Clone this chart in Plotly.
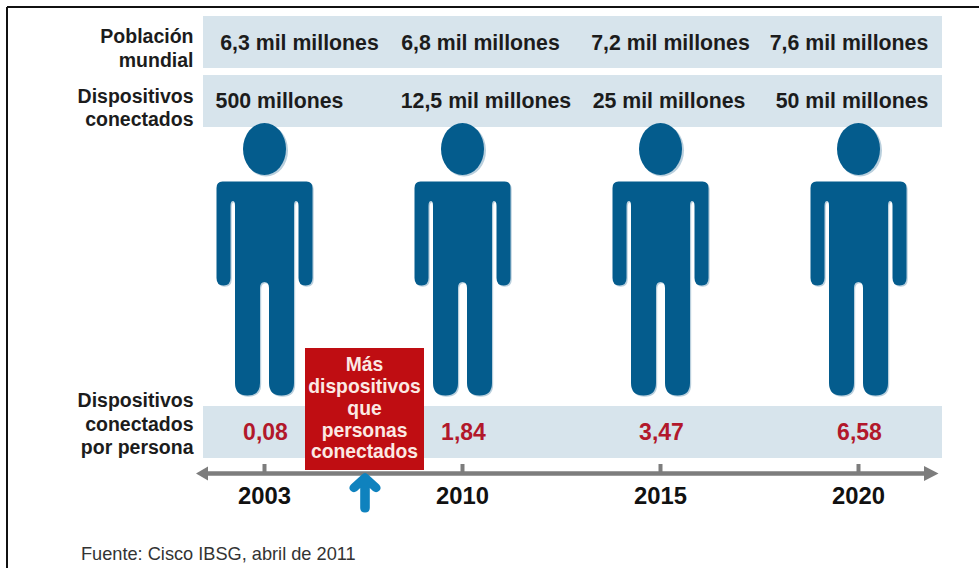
import plotly.graph_objects as go

# Table contents
years = ["2003", "2010", "2015", "2020"]
poblacion = ["6,3 mil millones", "6,8 mil millones", "7,2 mil millones", "7,6 mil millones"]
dispositivos = ["500 millones", "12,5 mil millones", "25 mil millones", "50 mil millones"]
por_persona = ["0,08", "1,84", "3,47", "6,58"]
etiqueta_poblacion = ["Población", "mundial"]
etiqueta_dispositivos = ["Dispositivos", "conectados"]
etiqueta_por_persona = ["Dispositivos", "conectados", "por persona"]
aviso = ["Más", "dispositivos", "que", "personas", "conectados"]
fuente = "Fuente: Cisco IBSG, abril de 2011"

# Page layout, in pixels of the 979x568 canvas
W, H = 979, 568
BAND_L, BAND_R = 203, 942
COL_X = [264.5, 462.5, 660.5, 858.5]
POB_X = [299.5, 480.5, 670.5, 849]
DISP_X = [279.5, 486, 669, 852]
RATIO_X = [265.5, 463.5, 661.5, 859.5]
AXIS_Y = 473.5
FONT = "Liberation Sans, Arial, sans-serif"

INK = "#1c1c1c"
BAND = "#d7e4ec"
FIGURE = "#045c8d"
SHADOW = "#b9cfdd"
RED_TEXT = "#b2182b"
RED_BOX = "#bf0d12"
GREY = "#7d7d7d"
BLUE = "#0f82be"


def person_path(cx, off=0):
    """Outline of the standing figure (torso, arms and legs) centred on cx."""
    x = lambda d: f"{cx + d + off:.1f}"
    y = lambda v: f"{v + off:.1f}"
    p = [
        f"M{x(-42)},{y(181.5)}", f"L{x(42)},{y(181.5)}", f"Q{x(48)},{y(181.5)} {x(48)},{y(188)}",
        f"L{x(48)},{y(278)}", f"Q{x(48)},{y(285.5)} {x(41)},{y(285.5)}", f"Q{x(34)},{y(285.5)} {x(34)},{y(278)}",
        f"L{x(34)},{y(206)}", f"Q{x(34)},{y(201)} {x(31.5)},{y(201)}", f"Q{x(29.5)},{y(201)} {x(29.5)},{y(206)}",
        f"L{x(29.5)},{y(383)}", f"Q{x(29.5)},{y(395.5)} {x(17)},{y(395.5)}", f"Q{x(4.5)},{y(395.5)} {x(4.5)},{y(383)}",
        f"L{x(4.5)},{y(288)}", f"Q{x(4.5)},{y(282)} {x(0)},{y(282)}", f"Q{x(-4.5)},{y(282)} {x(-4.5)},{y(288)}",
        f"L{x(-4.5)},{y(383)}", f"Q{x(-4.5)},{y(395.5)} {x(-17)},{y(395.5)}", f"Q{x(-29.5)},{y(395.5)} {x(-29.5)},{y(383)}",
        f"L{x(-29.5)},{y(206)}", f"Q{x(-29.5)},{y(201)} {x(-31.5)},{y(201)}", f"Q{x(-34)},{y(201)} {x(-34)},{y(206)}",
        f"L{x(-34)},{y(278)}", f"Q{x(-34)},{y(285.5)} {x(-41)},{y(285.5)}", f"Q{x(-48)},{y(285.5)} {x(-48)},{y(278)}",
        f"L{x(-48)},{y(188)}", f"Q{x(-48)},{y(181.5)} {x(-42)},{y(181.5)}", "Z",
    ]
    return " ".join(p)


def rect(x0, y0, x1, y1, color):
    return dict(type="rect", x0=x0, y0=y0, x1=x1, y1=y1, fillcolor=color, line_width=0, layer="below")


shapes = [
    rect(BAND_L, 16, BAND_R, 68, BAND),
    rect(BAND_L, 75, BAND_R, 127, BAND),
    rect(BAND_L, 406, BAND_R, 458, BAND),
]

for cx in COL_X:
    # soft drop shadow first, then the figure itself
    shapes.append(dict(type="path", path=person_path(cx, 1.2), fillcolor=SHADOW, line_width=0, layer="below"))
    shapes.append(dict(type="circle", x0=cx - 20.5, x1=cx + 23.5, y0=124.5, y1=176.5,
                       fillcolor=SHADOW, line_width=0, layer="below"))
    shapes.append(dict(type="path", path=person_path(cx), fillcolor=FIGURE, line_width=0, layer="below"))
    shapes.append(dict(type="circle", x0=cx - 21.5, x1=cx + 21.5, y0=123, y1=175,
                       fillcolor=FIGURE, line_width=0, layer="below"))
    # tick on the time axis
    shapes.append(rect(cx - 2, 464, cx + 2, AXIS_Y, GREY))

# time axis with an arrow head at each end
shapes += [
    rect(204, AXIS_Y - 2.3, 926, AXIS_Y + 2.3, GREY),
    dict(type="path", path=f"M196,{AXIS_Y} L208,{AXIS_Y - 7} L208,{AXIS_Y + 7} Z",
         fillcolor=GREY, line_width=0, layer="below"),
    dict(type="path", path=f"M938.5,{AXIS_Y} L924,{AXIS_Y - 7.5} L924,{AXIS_Y + 7.5} Z",
         fillcolor=GREY, line_width=0, layer="below"),
    rect(305, 348, 424, 470, RED_BOX),
    # blue upward arrow under the callout
    dict(type="path", layer="below", fillcolor=BLUE, line_width=0,
         path="M365,473 Q366.5,473 368,474.5 L379,484.5 Q382,488 379.5,490.5 Q376.5,493.5 373,491 L369.8,488 "
              "L369.8,507.5 Q369.8,512.5 365,512.5 Q360.2,512.5 360.2,507.5 L360.2,488 L357,491 "
              "Q353.5,493.5 350.5,490.5 Q348,488 351,484.5 L362,474.5 Q363.5,473 365,473 Z"),
    # frame: top and left edges only
    dict(type="line", x0=7, x1=W, y0=7, y1=7, line=dict(color="#111111", width=2)),
    dict(type="line", x0=7, x1=7, y0=7, y1=H, line=dict(color="#111111", width=2)),
]

fig = go.Figure()


def add_text(xs, ys, texts, size, color, pos="middle center", bold=True):
    weight = "bold" if bold else "normal"
    fig.add_trace(go.Scatter(
        x=xs, y=ys, text=texts, mode="text", textposition=pos, hoverinfo="skip",
        cliponaxis=False, showlegend=False,
        textfont=dict(family=FONT, size=size, color=color, weight=weight),
    ))


add_text(POB_X, [44.5] * 4, poblacion, 21.3, INK)
add_text(DISP_X, [102.5] * 4, dispositivos, 21.3, INK)
add_text(RATIO_X, [434.5] * 4, por_persona, 23, RED_TEXT)
add_text(COL_X, [498] * 4, years, 23.8, "#111111")

add_text([193.5] * 2, [38, 62], etiqueta_poblacion, 19.5, INK, "middle left")
add_text([193.5] * 2, [98, 121.5], etiqueta_dispositivos, 19.5, INK, "middle left")
add_text([193.5] * 3, [402, 426, 449], etiqueta_por_persona, 19.5, INK, "middle left")

add_text([364.5] * 5, [366, 388, 410, 432, 453.5], aviso, 19.3, "#fbe9e4")
add_text([81], [555], [fuente], 18.2, "#333333", "middle right", bold=False)

fig.update_layout(
    width=W, height=H, margin=dict(l=0, r=0, t=0, b=0),
    paper_bgcolor="white", plot_bgcolor="white", shapes=shapes,
    xaxis=dict(range=[0, W], visible=False, fixedrange=True),
    yaxis=dict(range=[H, 0], visible=False, fixedrange=True),
)
fig.write_html("out.html", config={"displayModeBar": False})
